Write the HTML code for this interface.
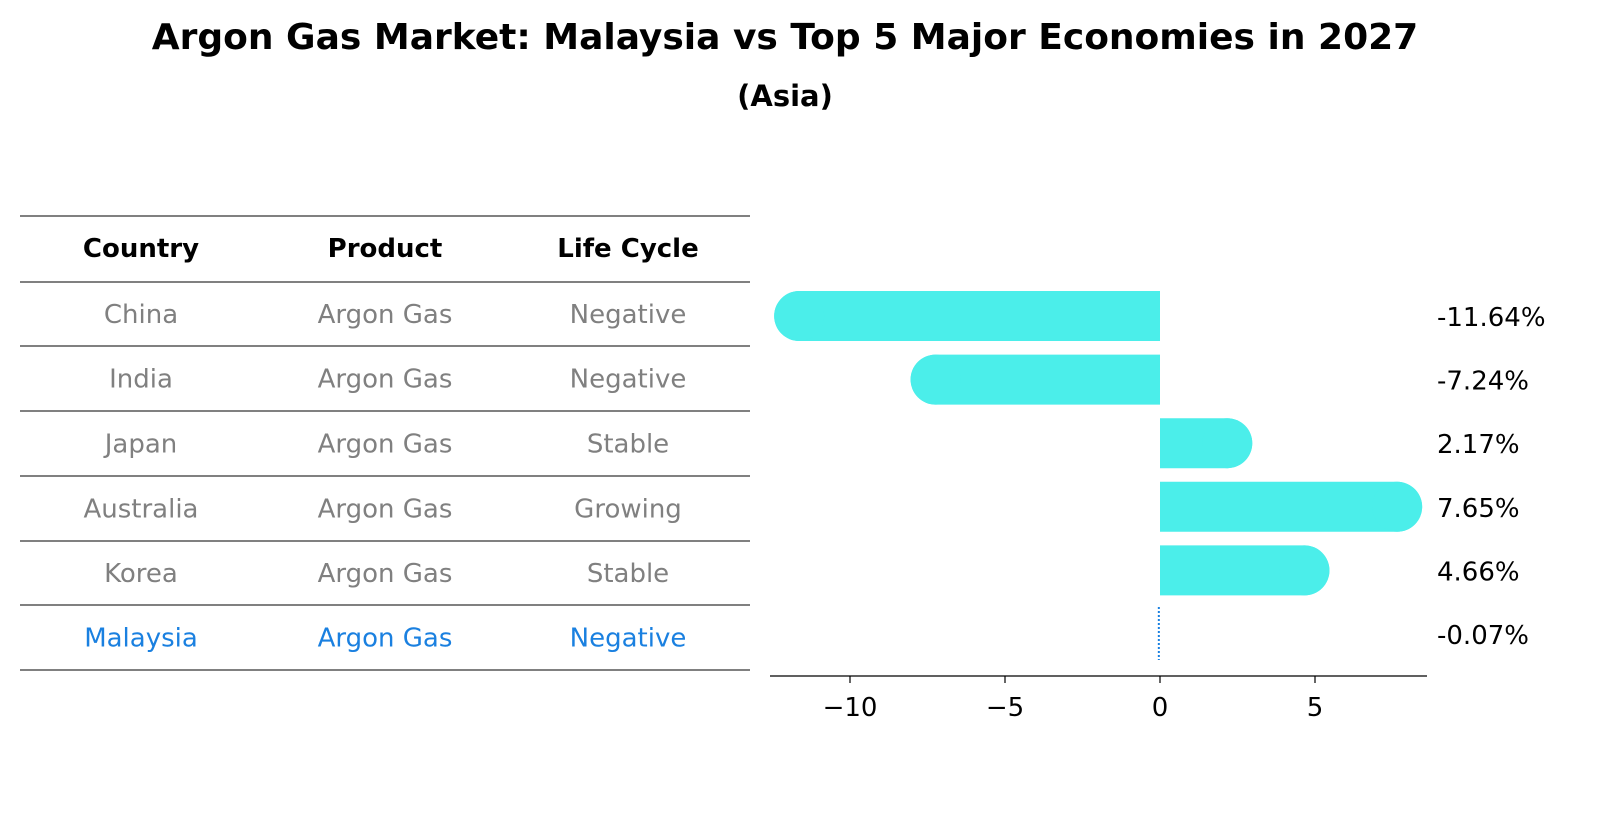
<!DOCTYPE html>
<html><head><meta charset="utf-8"><style>
body{margin:0;background:#fff;font-family:"Liberation Sans","DejaVu Sans",sans-serif;}
</style></head><body>
<svg width="1614" height="823" viewBox="0 0 1614 823" xmlns="http://www.w3.org/2000/svg" font-family="DejaVu Sans, Liberation Sans, sans-serif">
<text x="785" y="49" text-anchor="middle" font-size="36" font-weight="bold">Argon Gas Market: Malaysia vs Top 5 Major Economies in 2027</text>
<text x="785" y="106" text-anchor="middle" font-size="29" font-weight="bold">(Asia)</text>
<g id="table"></g>
<g id="bars"></g>
</svg>
<script>
const countries=["China","India","Japan","Australia","Korea","Malaysia"];
const products=["Argon Gas","Argon Gas","Argon Gas","Argon Gas","Argon Gas","Argon Gas"];
const lifeCycles=["Negative","Negative","Stable","Growing","Stable","Negative"];
const growth=[-11.64,-7.24,2.17,7.65,4.66,-0.07];
const ticks=[-10,-5,0,5];
const NS="http://www.w3.org/2000/svg";
function mk(tag,attrs,parent,text){const e=document.createElementNS(NS,tag);for(const k in attrs)e.setAttribute(k,attrs[k]);if(text!==undefined)e.textContent=text;parent.appendChild(e);return e;}
const tbl=document.getElementById('table');
const colX=[141,385,628];
const lineY=[216,282,346,411,476,541,605,670];
lineY.forEach((y,i)=>{const l=mk('line',{x1:20,x2:750,y1:y,y2:y,stroke:'#000','stroke-width':1},tbl);

});
["Country","Product","Life Cycle"].forEach((h,i)=>{const t=mk('text',{x:colX[i],y:257,'text-anchor':'middle','font-size':26,'font-weight':'bold'},tbl,h);

});
countries.forEach((c,r)=>{const y=(lineY[r+1]+lineY[r+2])/2+9;const col=r===countries.length-1?'#1a80e0':'#808080';
[c,products[r],lifeCycles[r]].forEach((v,i)=>{const t=mk('text',{x:colX[i],y:y,'text-anchor':'middle','font-size':26,fill:col},tbl,v);

});});
const g=document.getElementById('bars');
const x0=1160,ppu=31.0;
const xs=v=>x0+v*ppu;
const rowY=r=>316+r*63.6;
const bh=50,rad=25;
growth.forEach((v,r)=>{const cy=rowY(r);
if(r===countries.length-1){const l=mk('line',{x1:xs(v)+1,x2:xs(v)+1,y1:cy-27,y2:cy+26,stroke:'#1a80e0','stroke-width':2,'stroke-dasharray':'2 2'},g);

}
else{const xe=xs(v);const s=v<0?-1:1;
const d=`M${x0},${cy-bh/2} L${xe},${cy-bh/2} A${rad},${rad} 0 0 ${s>0?1:0} ${xe},${cy+bh/2} L${x0},${cy+bh/2} Z`;
const rect=mk('path',{d:d,fill:'#4beeea'},g);


const cap=mk('circle',{cx:xe,cy:cy,r:rad,fill:'#4beeea'},g);

}
const t=mk('text',{x:1437,y:cy+10,'font-size':26},g,(v).toFixed(2)+'%');

});
const ax=mk('line',{x1:770,x2:1427,y1:676,y2:676,stroke:'#000','stroke-width':1.2},g);


ticks.forEach(tk=>{const tl=mk('line',{x1:xs(tk),x2:xs(tk),y1:676,y2:683,stroke:'#000','stroke-width':1.2},g);


const t=mk('text',{x:xs(tk),y:716,'text-anchor':'middle','font-size':26},g,tk<0?'\u2212'+Math.abs(tk):String(tk));

});
</script>
</body></html>
